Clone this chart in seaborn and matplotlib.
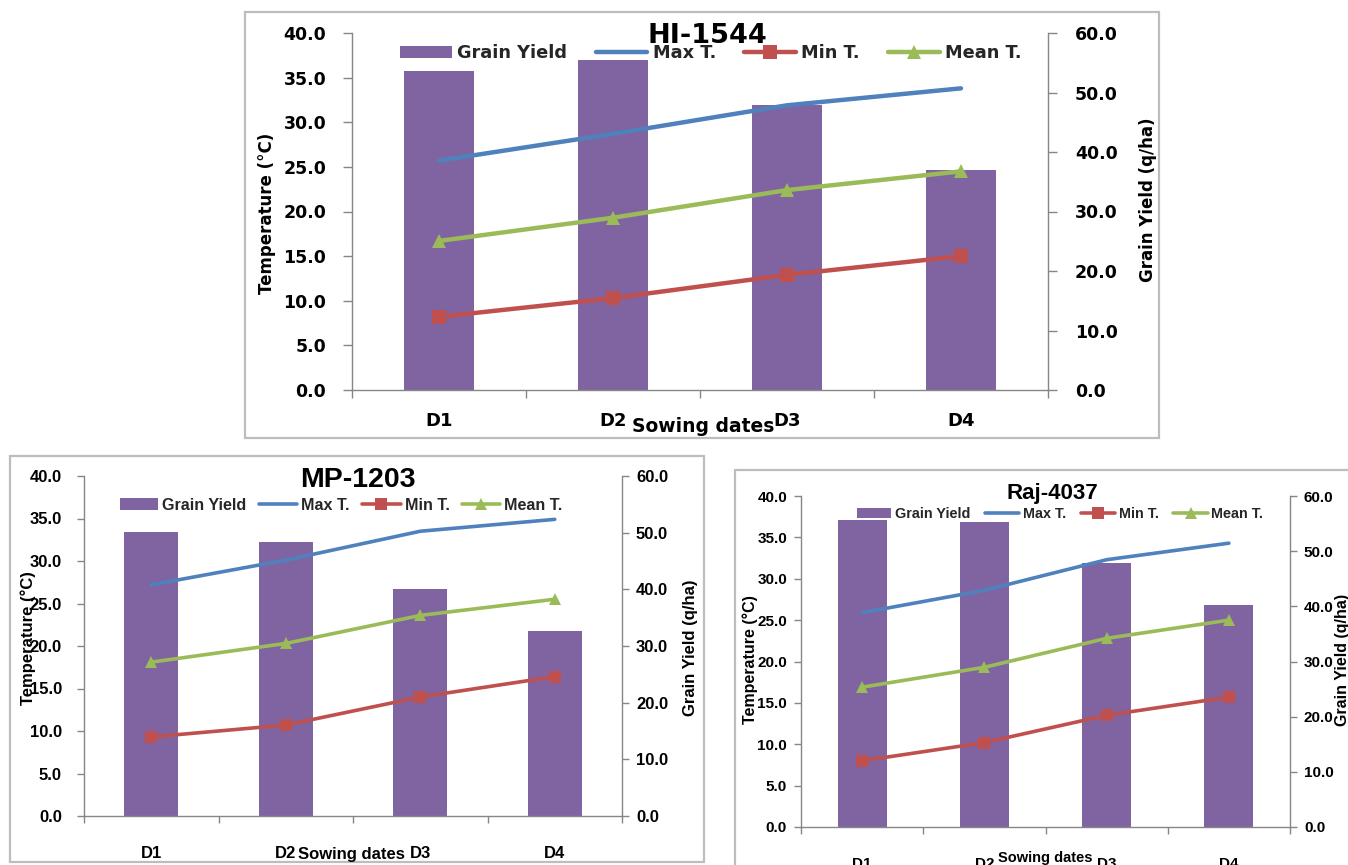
import matplotlib
matplotlib.use("Agg")
import matplotlib.pyplot as plt
from matplotlib.patches import Rectangle
import seaborn as sns

# ---- data -------------------------------------------------------------
dates = ["D1", "D2", "D3", "D4"]
series_labels = ["Grain Yield", "Max T.", "Min T.", "Mean T."]

hi1544_yield = [53.6, 55.5, 47.9, 36.9]
hi1544_max_t = [25.7, 28.7, 31.9, 33.8]
hi1544_min_t = [8.2, 10.3, 12.9, 15.0]
hi1544_mean_t = [16.7, 19.3, 22.4, 24.5]

mp1203_yield = [50.2, 48.4, 40.0, 32.7]
mp1203_max_t = [27.2, 30.1, 33.5, 34.9]
mp1203_min_t = [9.3, 10.7, 14.0, 16.4]
mp1203_mean_t = [18.1, 20.3, 23.6, 25.5]

raj4037_yield = [55.7, 55.3, 47.9, 40.3]
raj4037_max_t = [25.9, 28.6, 32.3, 34.3]
raj4037_min_t = [8.0, 10.2, 13.5, 15.7]
raj4037_mean_t = [16.9, 19.3, 22.8, 25.0]

temp_ticks = [0, 5, 10, 15, 20, 25, 30, 35, 40]
yield_ticks = [0, 10, 20, 30, 40, 50, 60]

# ---- styling ----------------------------------------------------------
PURPLE = "#8064A2"
BLUE = "#4F81BD"
RED = "#C0504D"
GREEN = "#9BBB59"
AXIS_GREY = "#868686"
FRAME_GREY = "#BDBDBD"

sns.set_theme(style="white")
plt.rcParams["font.family"] = ["DejaVu Sans"]

W, H = 1348, 865
fig = plt.figure(figsize=(W / 100, H / 100), dpi=100, facecolor="white")


def fx(x):
    return x / W


def fy(y):
    return 1 - y / H


def draw_panel(title, yld, tmax, tmin, tmean, lay, st):
    left, top, right, bottom = lay["axes"]
    ax = fig.add_axes([fx(left), fy(bottom), (right - left) / W, (bottom - top) / H])
    ax2 = ax.twinx()

    fl, ft, fr, fb = lay["frame"]
    fig.add_artist(Rectangle((fx(fl), fy(fb)), (fr - fl) / W, (fb - ft) / H,
                             transform=fig.transFigure, fill=False,
                             edgecolor=FRAME_GREY, lw=1.6, zorder=0))

    # grain yield bars on the secondary axis
    sns.barplot(x=dates, y=yld, ax=ax2, color=PURPLE, saturation=1,
                width=0.4, linewidth=0)
    bars = ax2.containers[0]

    # temperature lines on the primary axis
    lines = []
    for vals, col, mk in ((tmax, BLUE, ""), (tmin, RED, "s"), (tmean, GREEN, "^")):
        sns.pointplot(x=dates, y=vals, ax=ax, color=col, markers=mk,
                      errorbar=None, linewidth=st["lw"], markersize=st["ms"],
                      markeredgewidth=0)
        lines.append(ax.lines[-1])

    ax.set_zorder(ax2.get_zorder() + 1)
    ax.patch.set_visible(False)

    ax.set_xlim(-0.5, len(dates) - 0.5)
    ax.set_ylim(0, 40)
    ax2.set_ylim(0, 60)
    for a in (ax, ax2):
        a.set_xlabel("")
        a.set_ylabel("")
        a.grid(False)

    fam = st["family"]
    tick_font = dict(family=fam, weight="bold", size=st["tick"])

    ax.set_yticks(temp_ticks, labels=[f"{v:.1f}" for v in temp_ticks], **tick_font)
    ax2.set_yticks(yield_ticks, labels=[f"{v:.1f}" for v in yield_ticks], **tick_font)
    ax.set_xticks([i - 0.5 for i in range(len(dates) + 1)], labels=[])
    ax.set_xticks(range(len(dates)), labels=dates, minor=True,
                  family=fam, weight="bold", size=st["xtick"])

    ax.tick_params(axis="y", which="major", length=st["ylen"], width=1,
                   color=AXIS_GREY, labelcolor="black", pad=st["lpad"], left=True)
    ax2.tick_params(axis="y", which="major", length=st["ylen"], width=1,
                    color=AXIS_GREY, labelcolor="black", pad=st["rpad"], right=True)
    ax.tick_params(axis="x", which="major", length=st["xlen"], width=1,
                   color=AXIS_GREY, bottom=True)
    ax.tick_params(axis="x", which="minor", length=0, pad=st["xpad"],
                   labelcolor="black", bottom=True)

    for s in ("top", "right"):
        ax.spines[s].set_visible(False)
    for s in ("top", "left", "bottom"):
        ax2.spines[s].set_visible(False)
    for a in (ax, ax2):
        for sp in a.spines.values():
            sp.set_color(AXIS_GREY)
            sp.set_linewidth(1.0)

    ax.legend([bars, *lines], series_labels, loc="center",
              bbox_to_anchor=(fx(lay["legend"][0]), fy(lay["legend"][1])),
              bbox_transform=fig.transFigure, ncol=4, frameon=False,
              prop=dict(family=fam, weight="bold", size=st["legend"]),
              handlelength=st["hl"], handletextpad=st["htp"],
              columnspacing=st["cs"], borderpad=0, borderaxespad=0)

    txt = dict(family=fam, weight="bold", color="black", ha="center", va="center")
    fig.text(fx(lay["title"][0]), fy(lay["title"][1]), title, size=st["title"], **txt)
    fig.text(fx(lay["xlabel"][0]), fy(lay["xlabel"][1]), "Sowing dates",
             size=st["xlabel"], **txt)
    fig.text(fx(lay["ylabel"][0]), fy(lay["ylabel"][1]), "Temperature (°C)",
             size=st["label"], rotation=90, **txt)
    fig.text(fx(lay["y2label"][0]), fy(lay["y2label"][1]), "Grain Yield (q/ha)",
             size=st["label"], rotation=90, **txt)


top_layout = dict(axes=(352, 33, 1048, 390), frame=(245, 12, 1159, 438),
                  title=(707, 36), legend=(711, 53), xlabel=(703, 427),
                  ylabel=(267, 213), y2label=(1148, 200))
top_style = dict(family="DejaVu Sans", tick=12.5, xtick=13, legend=12.8,
                 title=19.5, label=12, xlabel=13.5, lw=3.2, ms=10,
                 ylen=6.5, xlen=5.5, lpad=12, rpad=13, xpad=15.5,
                 hl=2.9, htp=0.3, cs=1.6)

left_layout = dict(axes=(84, 476, 622, 816), frame=(10, 456, 704, 862),
                   title=(358, 480), legend=(341, 505), xlabel=(351, 855),
                   ylabel=(28, 638), y2label=(690, 648))
left_style = dict(family="Liberation Sans", tick=12, xtick=12, legend=11.6,
                  title=20.5, label=12, xlabel=12, lw=2.6, ms=9,
                  ylen=5, xlen=5, lpad=11, rpad=5, xpad=21.5,
                  hl=2.4, htp=0.25, cs=0.75)

right_layout = dict(axes=(801, 496, 1290, 827), frame=(735, 470, 1362, 880),
                    title=(1052, 493), legend=(1060, 514), xlabel=(1045, 858),
                    ylabel=(750, 660), y2label=(1343, 660))
right_style = dict(family="Liberation Sans", tick=11, xtick=11, legend=10.4,
                   title=16, label=11.5, xlabel=10.5, lw=2.6, ms=9,
                   ylen=5, xlen=5, lpad=5, rpad=5, xpad=21.5,
                   hl=2.4, htp=0.25, cs=1.0)

draw_panel("HI-1544", hi1544_yield, hi1544_max_t, hi1544_min_t, hi1544_mean_t,
           top_layout, top_style)
draw_panel("MP-1203", mp1203_yield, mp1203_max_t, mp1203_min_t, mp1203_mean_t,
           left_layout, left_style)
draw_panel("Raj-4037", raj4037_yield, raj4037_max_t, raj4037_min_t, raj4037_mean_t,
           right_layout, right_style)

fig.savefig("out.png", dpi=100, facecolor="white")
